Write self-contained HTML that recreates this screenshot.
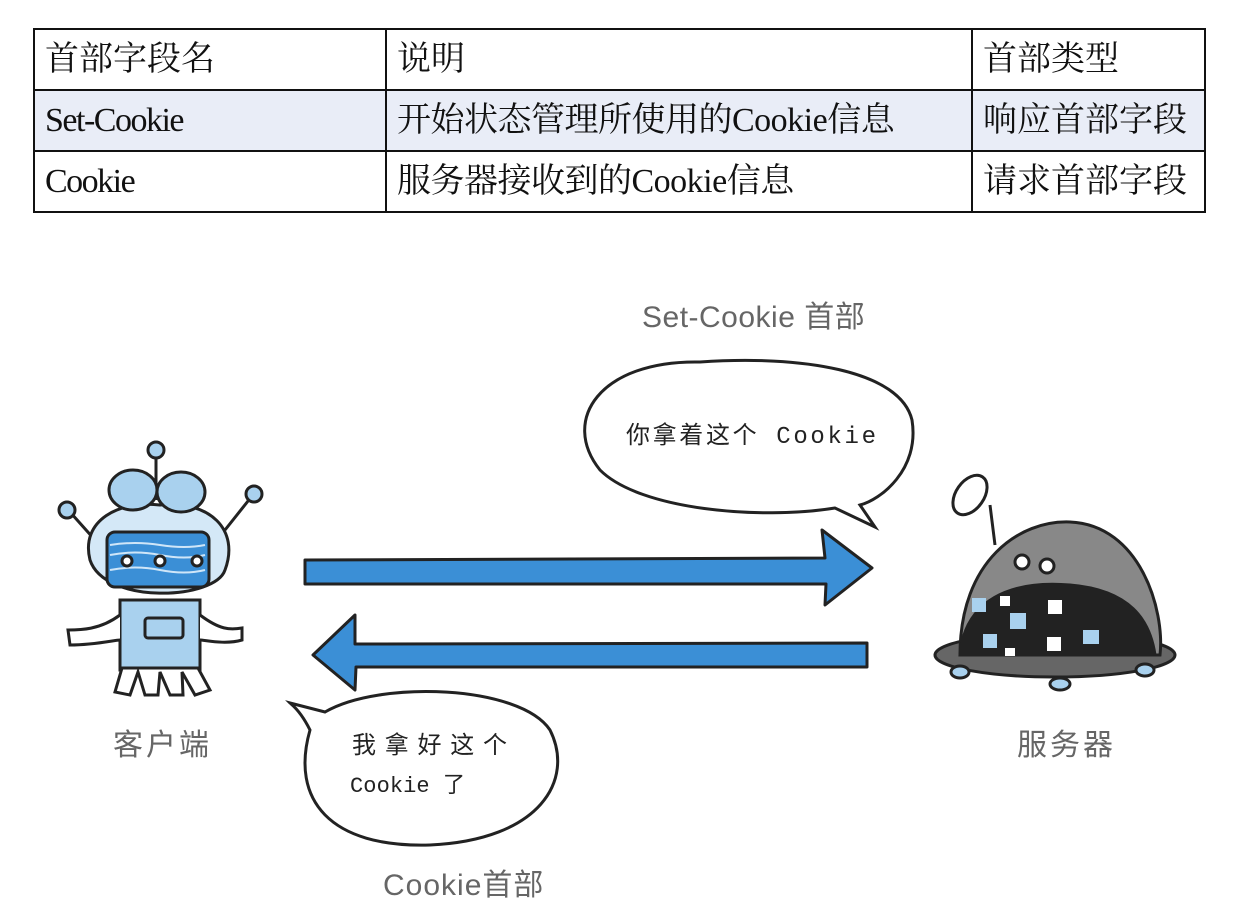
<!DOCTYPE html>
<html><head><meta charset="utf-8"><style>
body{margin:0;width:1248px;height:916px;background:#fff;overflow:hidden;position:relative}
table{position:absolute;left:33px;top:28px;border-collapse:collapse;font-family:"Liberation Serif","Noto Serif CJK SC",serif;font-size:34px;color:#111}
td{border:2px solid #111;height:59px;padding:0 0 0 10px;line-height:59px;white-space:nowrap;letter-spacing:0px}
.g{position:absolute;font-family:"Liberation Sans","Noto Sans CJK SC",sans-serif;color:#666;font-size:30px;white-space:nowrap}
</style></head><body>
<table>
<tr><td style="width:340px">首部字段名</td><td style="width:574px">说明</td><td style="width:221px">首部类型</td></tr>
<tr style="background:#e9edf7"><td style="letter-spacing:-1.5px">Set-Cookie</td><td style="letter-spacing:-0.5px">开始状态管理所使用的Cookie信息</td><td>响应首部字段</td></tr>
<tr><td style="letter-spacing:-1.5px">Cookie</td><td style="letter-spacing:-0.5px">服务器接收到的Cookie信息</td><td>请求首部字段</td></tr>
</table>
<div class="g" style="left:642px;top:292px;letter-spacing:0.5px">Set-Cookie 首部</div>
<div class="g" style="left:113px;top:720px;letter-spacing:3px">客户端</div>
<div class="g" style="left:1017px;top:720px;letter-spacing:3px">服务器</div>
<div class="g" style="left:383px;top:860px;letter-spacing:1px">Cookie首部</div>
<svg width="1248" height="916" style="position:absolute;left:0;top:0" font-family="Liberation Mono,Noto Sans CJK SC,monospace">
<path d="M600,470 C560,420 600,360 700,362 C800,355 900,370 912,420 C920,470 880,500 860,505 L875,527 L835,508 C760,520 640,510 600,470Z" fill="#fff" stroke="#222" stroke-width="3"/>
<text x="626" y="443" font-size="24" fill="#222" textLength="250">你拿着这个 Cookie</text>
<path d="M310,730 C300,710 292,705 290,703 L325,712 C380,680 520,685 550,730 C575,780 540,840 430,845 C330,848 290,800 310,730Z" fill="#fff" stroke="#222" stroke-width="3"/>
<text x="352" y="753" font-size="24" fill="#222" textLength="155">我拿好这个</text>
<text x="350" y="792" font-size="22" fill="#222" textLength="115">Cookie 了</text>
<path d="M305,560 L825,558 L822,530 L872,568 L825,605 L826,584 L305,584Z" fill="#3b8fd6" stroke="#222" stroke-width="3" stroke-linejoin="round"/>
<path d="M867,643 L355,644 L355,615 L313,655 L355,690 L356,667 L867,667Z" fill="#3b8fd6" stroke="#222" stroke-width="3" stroke-linejoin="round"/>
<g stroke="#222" stroke-width="3">
<line x1="156" y1="455" x2="156" y2="500"/><circle cx="156" cy="450" r="8" fill="#a9d1ee"/>
<line x1="70" y1="512" x2="95" y2="540"/><circle cx="67" cy="510" r="8" fill="#a9d1ee"/>
<line x1="252" y1="496" x2="225" y2="530"/><circle cx="254" cy="494" r="8" fill="#a9d1ee"/>
<path d="M90,560 C80,520 120,500 160,505 C210,500 240,530 225,570 C215,600 105,605 90,560Z" fill="#d4e8f7"/>
<ellipse cx="133" cy="490" rx="24" ry="20" fill="#a9d1ee"/><ellipse cx="181" cy="492" rx="24" ry="20" fill="#a9d1ee"/>
<rect x="107" y="532" width="102" height="55" rx="8" fill="#3b8fd6"/>
<path d="M110,555 q25,-5 50,0 t45,0 M110,570 q25,-5 50,0 t45,0 M110,545 q25,-4 50,0 t45,0" stroke="#cfe6f8" fill="none" stroke-width="2"/>
<circle cx="127" cy="561" r="5" fill="#fff"/><circle cx="160" cy="561" r="5" fill="#fff"/><circle cx="197" cy="561" r="5" fill="#fff"/>
<path d="M120,600 L200,600 L200,670 L120,670Z" fill="#a9d1ee"/>
<rect x="145" y="618" width="38" height="20" rx="3" fill="#a9d1ee"/>
<path d="M120,615 C100,630 80,630 68,630 L70,645 C95,645 115,640 120,640" fill="#fff"/>
<path d="M200,615 C220,630 230,630 242,628 L242,640 C225,645 205,640 200,640" fill="#fff"/>
<path d="M122,668 L115,692 L130,695 L138,672 L145,695 L158,695 L160,672 L170,695 L183,695 L182,672 L195,695 L210,690 L198,668Z" fill="#fff"/>
</g>
<g stroke="#222" stroke-width="3">
<line x1="990" y1="505" x2="995" y2="545"/>
<ellipse cx="970" cy="495" rx="14" ry="22" fill="#fff" transform="rotate(35 970 495)"/>
<ellipse cx="1055" cy="655" rx="120" ry="22" fill="#666"/>
<ellipse cx="960" cy="672" rx="9" ry="6" fill="#a9d1ee"/><ellipse cx="1060" cy="684" rx="10" ry="6" fill="#a9d1ee"/><ellipse cx="1145" cy="670" rx="9" ry="6" fill="#a9d1ee"/>
<path d="M960,655 C960,560 1020,520 1070,522 C1140,525 1165,610 1160,655Z" fill="#888"/>
<path d="M960,655 C965,600 1010,580 1070,585 C1130,590 1150,620 1155,655Z" fill="#222"/>
<circle cx="1022" cy="562" r="7" fill="#fff"/><circle cx="1047" cy="566" r="7" fill="#fff"/>
</g>
<g fill="#a9d1ee"><rect x="972" y="598" width="14" height="14"/><rect x="1010" y="613" width="16" height="16"/><rect x="983" y="634" width="14" height="14"/><rect x="1083" y="630" width="16" height="14"/></g>
<g fill="#fff"><rect x="1000" y="596" width="10" height="10"/><rect x="1048" y="600" width="14" height="14"/><rect x="1047" y="637" width="14" height="14"/><rect x="1005" y="648" width="10" height="8"/></g>
</svg>
</body></html>
